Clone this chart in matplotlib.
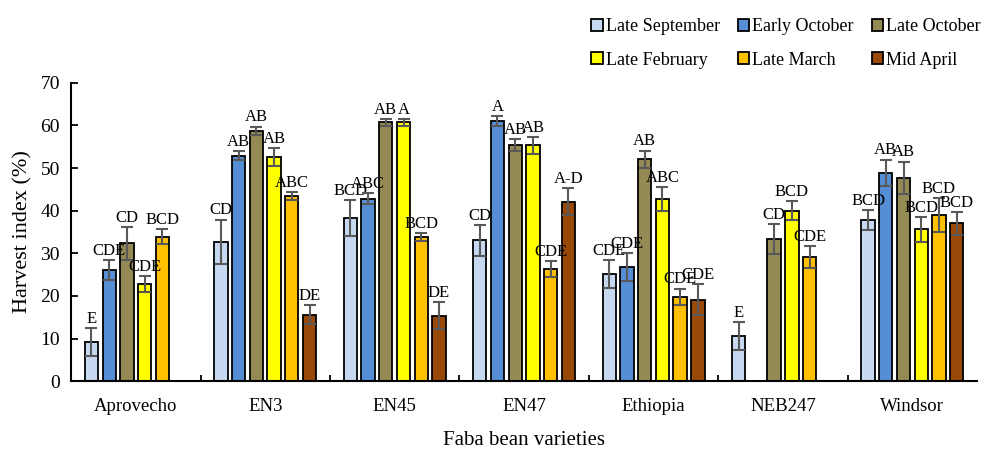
import numpy as np
import matplotlib.pyplot as plt

varieties = ["Aprovecho", "EN3", "EN45", "EN47", "Ethiopia", "NEB247", "Windsor"]
dates = ["Late September", "Early October", "Late October",
         "Late February", "Late March", "Mid April"]
colors = ["#C6D9F1", "#558ED5", "#948A54", "#FFFF00", "#FFC000", "#984807"]

nan = np.nan
late_sep = [9.2, 32.7, 38.2, 33.0, 25.1, 10.5, 37.8]
early_oct = [26.1, 52.9, 42.8, 61.0, 26.7, nan, 48.9]
late_oct = [32.3, 58.7, 60.7, 55.4, 52.1, 33.4, 47.7]
late_feb = [22.8, 52.6, 60.7, 55.3, 42.7, 40.0, 35.6]
late_mar = [33.9, 43.4, 33.8, 26.3, 19.8, 29.1, 39.0]
mid_apr = [nan, 15.6, 15.4, 42.1, 19.1, nan, 37.0]

err_late_sep = [3.2, 5.2, 4.2, 3.6, 3.3, 3.3, 2.4]
err_early_oct = [2.3, 1.1, 1.3, 1.2, 3.3, nan, 3.1]
err_late_oct = [3.9, 1.0, 0.8, 1.4, 2.0, 3.5, 3.8]
err_late_feb = [1.8, 2.1, 0.8, 1.9, 2.8, 2.2, 2.9]
err_late_mar = [1.8, 0.9, 1.0, 1.9, 1.9, 2.6, 4.0]
err_mid_apr = [nan, 2.3, 3.2, 3.2, 3.6, nan, 2.7]

letters_late_sep = ["E", "CD", "BCD", "CD", "CDE", "E", "BCD"]
letters_early_oct = ["CDE", "AB", "ABC", "A", "CDE", "", "AB"]
letters_late_oct = ["CD", "AB", "AB", "AB", "AB", "CD", "AB"]
letters_late_feb = ["CDE", "AB", "A", "AB", "ABC", "BCD", "BCD"]
letters_late_mar = ["BCD", "ABC", "BCD", "CDE", "CDE", "CDE", "BCD"]
letters_mid_apr = ["", "DE", "DE", "A-D", "CDE", "", "BCD"]

series = [late_sep, early_oct, late_oct, late_feb, late_mar, mid_apr]
errors = [err_late_sep, err_early_oct, err_late_oct, err_late_feb, err_late_mar, err_mid_apr]
letters = [letters_late_sep, letters_early_oct, letters_late_oct,
           letters_late_feb, letters_late_mar, letters_mid_apr]

plt.rcParams["font.family"] = ["Liberation Serif", "DejaVu Serif"]

fig = plt.figure(figsize=(9.87, 4.5), dpi=100)
ax = fig.add_axes([0.072, 0.153, 0.918, 0.663])

x = np.arange(len(varieties))
step = 0.137
width = 0.103

handles = []
for i, (vals, errs, labs) in enumerate(zip(series, errors, letters)):
    pos = x + (i - 2.5) * step
    v = np.array(vals, dtype=float)
    e = np.array(errs, dtype=float)
    b = ax.bar(pos, v, width, color=colors[i], edgecolor="black", linewidth=1.3,
               label=dates[i], zorder=2)
    handles.append(b)
    ax.errorbar(pos, v, yerr=e, fmt="none", ecolor="#595959", elinewidth=1.5,
                capsize=4, capthick=1.5, zorder=3)
    for p, val, er, lab in zip(pos, v, e, labs):
        if lab and not np.isnan(val):
            ax.text(p, val + er + 0.3, lab, ha="center", va="bottom", fontsize=12)

ax.set_xlim(-0.5, len(varieties) - 0.5)
ax.set_ylim(0, 70)
ax.set_yticks(range(0, 71, 10))
ax.set_xticks(x)
ax.set_xticklabels(varieties)
ax.set_xticks(np.arange(0.5, len(varieties) - 0.5, 1), minor=True)
ax.tick_params(axis="x", which="major", length=0, pad=12, labelsize=13.5)
ax.tick_params(axis="x", which="minor", direction="in", length=4, width=1.3)
ax.tick_params(axis="y", direction="in", length=5, width=1.3, labelsize=14, pad=8)

ax.spines["top"].set_visible(False)
ax.spines["right"].set_visible(False)
ax.spines["left"].set_linewidth(1.5)
ax.spines["bottom"].set_linewidth(1.5)

ax.set_xlabel("Faba bean varieties", fontsize=15, labelpad=12)
ax.set_ylabel("Harvest index (%)", fontsize=16, labelpad=6)

# legend filled row by row like the original
order = [0, 3, 1, 4, 2, 5]
ax.legend([handles[k] for k in order], [dates[k] for k in order],
          ncol=3, loc="upper right", bbox_to_anchor=(1.012, 1.24), frameon=False,
          fontsize=13, handlelength=0.65, handleheight=0.65, handletextpad=0.15,
          columnspacing=1.0, labelspacing=0.9, borderaxespad=0)

fig.savefig("out.png", dpi=100)
